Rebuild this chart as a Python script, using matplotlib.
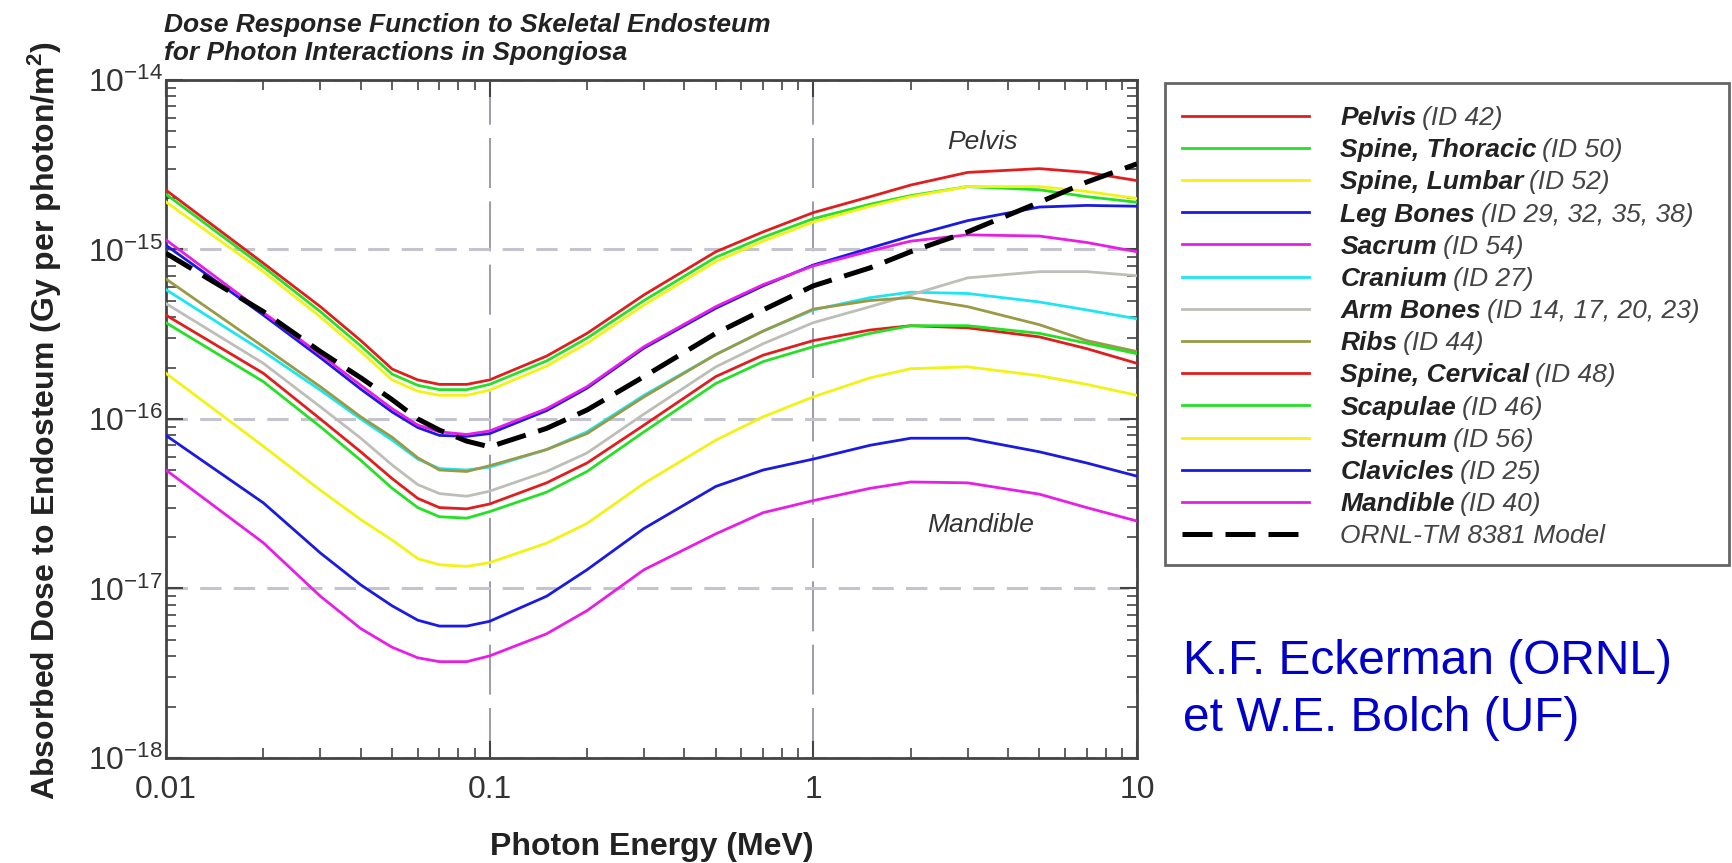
import numpy as np
import matplotlib
matplotlib.use("Agg")
import matplotlib.pyplot as plt
from matplotlib.patches import Rectangle

plt.rcParams['font.family'] = ['Liberation Sans', 'DejaVu Sans']
plt.rcParams['mathtext.fontset'] = 'custom'
plt.rcParams['mathtext.rm'] = 'Liberation Sans'
plt.rcParams['mathtext.it'] = 'Liberation Sans:italic'
plt.rcParams['mathtext.bf'] = 'Liberation Sans:bold'
plt.rcParams['mathtext.default'] = 'regular'

# photon energy (MeV)
energy = [0.01, 0.02, 0.03, 0.04, 0.05, 0.06, 0.07, 0.085, 0.1, 0.15, 0.2, 0.3,
          0.5, 0.7, 1, 1.5, 2, 3, 5, 7, 10]

# absorbed dose to endosteum (Gy per photon/m2)
pelvis = [2.24e-15, 8.3e-16, 4.6e-16, 2.9e-16, 1.97e-16, 1.7e-16, 1.6e-16, 1.6e-16, 1.7e-16, 2.35e-16,
          3.2e-16, 5.4e-16, 9.7e-16, 1.27e-15, 1.65e-15, 2.05e-15, 2.4e-15, 2.85e-15, 3.0e-15, 2.85e-15, 2.55e-15]
spine_thoracic = [2.12e-15, 7.9e-16, 4.3e-16, 2.7e-16, 1.84e-16, 1.58e-16, 1.49e-16, 1.49e-16, 1.6e-16, 2.2e-16,
                  3.0e-16, 5.0e-16, 9.0e-16, 1.18e-15, 1.52e-15, 1.85e-15, 2.08e-15, 2.35e-15, 2.25e-15, 2.05e-15, 1.9e-15]
spine_lumbar = [1.91e-15, 7.4e-16, 4.0e-16, 2.5e-16, 1.7e-16, 1.46e-16, 1.38e-16, 1.38e-16, 1.48e-16, 2.05e-16,
                2.8e-16, 4.7e-16, 8.5e-16, 1.12e-15, 1.45e-15, 1.8e-15, 2.05e-15, 2.35e-15, 2.35e-15, 2.2e-15, 2.0e-15]
leg_bones = [1.06e-15, 4.1e-16, 2.3e-16, 1.5e-16, 1.1e-16, 8.9e-17, 8.0e-17, 7.9e-17, 8.2e-17, 1.12e-16,
             1.52e-16, 2.62e-16, 4.5e-16, 6.1e-16, 8.1e-16, 1.02e-15, 1.2e-15, 1.48e-15, 1.78e-15, 1.82e-15, 1.8e-15]
sacrum = [1.14e-15, 4.25e-16, 2.4e-16, 1.58e-16, 1.15e-16, 9.2e-17, 8.4e-17, 8.1e-17, 8.5e-17, 1.15e-16,
          1.55e-16, 2.67e-16, 4.6e-16, 6.2e-16, 8.0e-16, 9.8e-16, 1.12e-15, 1.22e-15, 1.2e-15, 1.1e-15, 9.7e-16]
cranium = [5.8e-16, 2.5e-16, 1.48e-16, 1.0e-16, 7.5e-17, 5.8e-17, 5.1e-17, 5.0e-17, 5.2e-17, 6.6e-17,
           8.4e-17, 1.38e-16, 2.4e-16, 3.3e-16, 4.4e-16, 5.2e-16, 5.6e-16, 5.5e-16, 4.9e-16, 4.4e-16, 3.9e-16]
arm_bones = [4.8e-16, 2.13e-16, 1.18e-16, 7.7e-17, 5.35e-17, 4.1e-17, 3.63e-17, 3.5e-17, 3.75e-17, 4.9e-17,
             6.3e-17, 1.07e-16, 2.03e-16, 2.78e-16, 3.7e-16, 4.6e-16, 5.4e-16, 6.8e-16, 7.4e-16, 7.4e-16, 7.0e-16]
ribs = [6.7e-16, 2.67e-16, 1.55e-16, 1.03e-16, 7.8e-17, 5.9e-17, 5.0e-17, 4.9e-17, 5.3e-17, 6.6e-17,
        8.2e-17, 1.35e-16, 2.4e-16, 3.3e-16, 4.45e-16, 5.0e-16, 5.2e-16, 4.6e-16, 3.6e-16, 2.9e-16, 2.5e-16]
spine_cervical = [4.1e-16, 1.86e-16, 1.0e-16, 6.4e-17, 4.45e-17, 3.4e-17, 3.0e-17, 2.95e-17, 3.15e-17, 4.2e-17,
                  5.5e-17, 9.2e-17, 1.78e-16, 2.38e-16, 2.9e-16, 3.35e-16, 3.55e-16, 3.45e-16, 3.05e-16, 2.6e-16, 2.13e-16]
scapulae = [3.7e-16, 1.66e-16, 9.0e-17, 5.7e-17, 3.9e-17, 3.0e-17, 2.65e-17, 2.6e-17, 2.84e-17, 3.7e-17,
            4.9e-17, 8.4e-17, 1.62e-16, 2.18e-16, 2.67e-16, 3.2e-16, 3.55e-16, 3.55e-16, 3.2e-16, 2.8e-16, 2.43e-16]
sternum = [1.86e-16, 6.9e-17, 3.8e-17, 2.55e-17, 1.93e-17, 1.5e-17, 1.38e-17, 1.35e-17, 1.42e-17, 1.85e-17,
           2.42e-17, 4.17e-17, 7.5e-17, 1.03e-16, 1.35e-16, 1.75e-16, 1.98e-16, 2.03e-16, 1.8e-16, 1.6e-16, 1.38e-16]
clavicles = [8.0e-17, 3.2e-17, 1.62e-17, 1.05e-17, 7.9e-18, 6.5e-18, 6.0e-18, 6.0e-18, 6.4e-18, 9.0e-18,
             1.29e-17, 2.26e-17, 4.0e-17, 5.0e-17, 5.8e-17, 7.0e-17, 7.7e-17, 7.7e-17, 6.4e-17, 5.5e-17, 4.6e-17]
mandible = [5.0e-17, 1.86e-17, 9.0e-18, 5.8e-18, 4.5e-18, 3.9e-18, 3.7e-18, 3.7e-18, 4.0e-18, 5.4e-18,
            7.4e-18, 1.29e-17, 2.1e-17, 2.8e-17, 3.3e-17, 3.9e-17, 4.25e-17, 4.2e-17, 3.6e-17, 3.0e-17, 2.5e-17]
ornl_model = [9.5e-16, 4.3e-16, 2.5e-16, 1.75e-16, 1.3e-16, 1.0e-16, 8.6e-17, 7.4e-17, 6.85e-17, 8.8e-17,
              1.13e-16, 1.78e-16, 3.2e-16, 4.4e-16, 6.1e-16, 7.8e-16, 9.7e-16, 1.27e-15, 1.9e-15, 2.5e-15, 3.2e-15]

names = ["Pelvis", "Spine, Thoracic", "Spine, Lumbar", "Leg Bones", "Sacrum", "Cranium",
         "Arm Bones", "Ribs", "Spine, Cervical", "Scapulae", "Sternum", "Clavicles", "Mandible"]
ids = ["(ID 42)", "(ID 50)", "(ID 52)", "(ID 29, 32, 35, 38)", "(ID 54)", "(ID 27)",
       "(ID 14, 17, 20, 23)", "(ID 44)", "(ID 48)", "(ID 46)", "(ID 56)", "(ID 25)", "(ID 40)"]
series = [pelvis, spine_thoracic, spine_lumbar, leg_bones, sacrum, cranium,
          arm_bones, ribs, spine_cervical, scapulae, sternum, clavicles, mandible]
colors = ["#e01e1e", "#26e026", "#f2f214", "#1a1ae0", "#e61ee6", "#1ee6f0",
          "#bebeb8", "#9a9a46", "#e01e1e", "#26e026", "#f2f214", "#1a1ae0", "#e61ee6"]

ytick_vals = [1e-18, 1e-17, 1e-16, 1e-15, 1e-14]
ytick_labels = ["$10^{-18}$", "$10^{-17}$", "$10^{-16}$", "$10^{-15}$", "$10^{-14}$"]
xtick_vals = [0.01, 0.1, 1, 10]
xtick_labels = ["0.01", "0.1", "1", "10"]

fig = plt.figure(figsize=(17.32, 8.63), dpi=100)
ax = fig.add_axes([0.0958, 0.1217, 0.5606, 0.7856])

lines = []
for vals, c in zip(series, colors):
    ln, = ax.plot(energy, vals, color=c, lw=2.0, zorder=3)
    lines.append(ln)
ln_ornl, = ax.plot(energy, ornl_model, color="black", lw=3.6, ls=(0, (6, 2.6)), zorder=4)
lines.append(ln_ornl)

ax.set_xscale("log")
ax.set_yscale("log")
ax.set_xlim(0.01, 10)
ax.set_ylim(1e-18, 1e-14)
ax.set_xticks(xtick_vals)
ax.set_xticklabels(xtick_labels)
ax.set_yticks(ytick_vals)
ax.set_yticklabels(ytick_labels)

# grid
ax.grid(axis="y", which="major", color="#c4c4ce", lw=2.2, ls=(0, (7, 4)), zorder=1)
ax.grid(axis="x", which="major", color="#8a8aa2", lw=1.2, ls=(0, (30, 8)), zorder=1)

ax.tick_params(which="both", direction="in", top=True, right=True, colors="#444444")
ax.tick_params(which="major", length=12, width=1.5, labelsize=23, labelcolor="#333333")
ax.tick_params(axis="x", which="major", pad=12)
ax.tick_params(axis="y", which="major", pad=2)
ax.tick_params(which="minor", length=7, width=1.2)
for s in ax.spines.values():
    s.set_color("#444444")
    s.set_linewidth(2)

ax.text(3.34, 4.3e-15, "Pelvis", ha="center", va="center", style="italic", fontsize=19, color="#333333")
ax.text(3.3, 2.37e-17, "Mandible", ha="center", va="center", style="italic", fontsize=19, color="#333333")

fig.text(0.0947, 0.963, "Dose Response Function to Skeletal Endosteum", fontsize=19,
         weight="bold", style="italic", color="#222222", va="baseline")
fig.text(0.0947, 0.9305, "for Photon Interactions in Spongiosa", fontsize=19,
         weight="bold", style="italic", color="#222222", va="baseline")
fig.text(0.026, 1 - 421 / 863, r"Absorbed Dose to Endosteum (Gy per photon/m$^{\mathbf{2}}$)",
         rotation=90, ha="center", va="center", fontsize=23, weight="bold", color="#222222")
fig.text(0.3764, 0.0093, "Photon Energy (MeV)", ha="center", va="baseline",
         fontsize=23, weight="bold", color="#222222")

# legend box drawn separately so it can run to the right edge
box = Rectangle((1165 / 1732, 1 - 565 / 863), 564 / 1732, 482 / 863,
                transform=fig.transFigure, facecolor="white",
                edgecolor="#666666", lw=2, zorder=5, clip_on=False)
ax.add_artist(box)
leg = ax.legend(lines, names + ["ORNL-TM 8381 Model"], loc="upper left",
                bbox_to_anchor=(1182 / 1732, 1 - 106 / 863), bbox_transform=fig.transFigure,
                borderaxespad=0, borderpad=0, frameon=False,
                prop={"weight": "bold", "style": "italic", "size": 19},
                handlelength=4.8, handletextpad=1.2, labelspacing=0.31)
leg.set_zorder(6)
texts = leg.get_texts()
for t in texts:
    t.set_color("#222222")
texts[-1].set_fontweight("normal")
texts[-1].set_color("#444444")
for t, idt in zip(texts, ids):
    ax.annotate(idt, xy=(1, 0), xycoords=t, xytext=(4, 0), textcoords="offset points",
                ha="left", va="bottom", fontsize=19, style="italic", color="#444444",
                annotation_clip=False, zorder=10)

fig.text(0.683, 1 - 674 / 863, "K.F. Eckerman (ORNL)", color="#0000c8", fontsize=34.5, va="baseline")
fig.text(0.683, 1 - 731 / 863, "et W.E. Bolch (UF)", color="#0000c8", fontsize=34.5, va="baseline")

fig.savefig("out.png", dpi=100)
